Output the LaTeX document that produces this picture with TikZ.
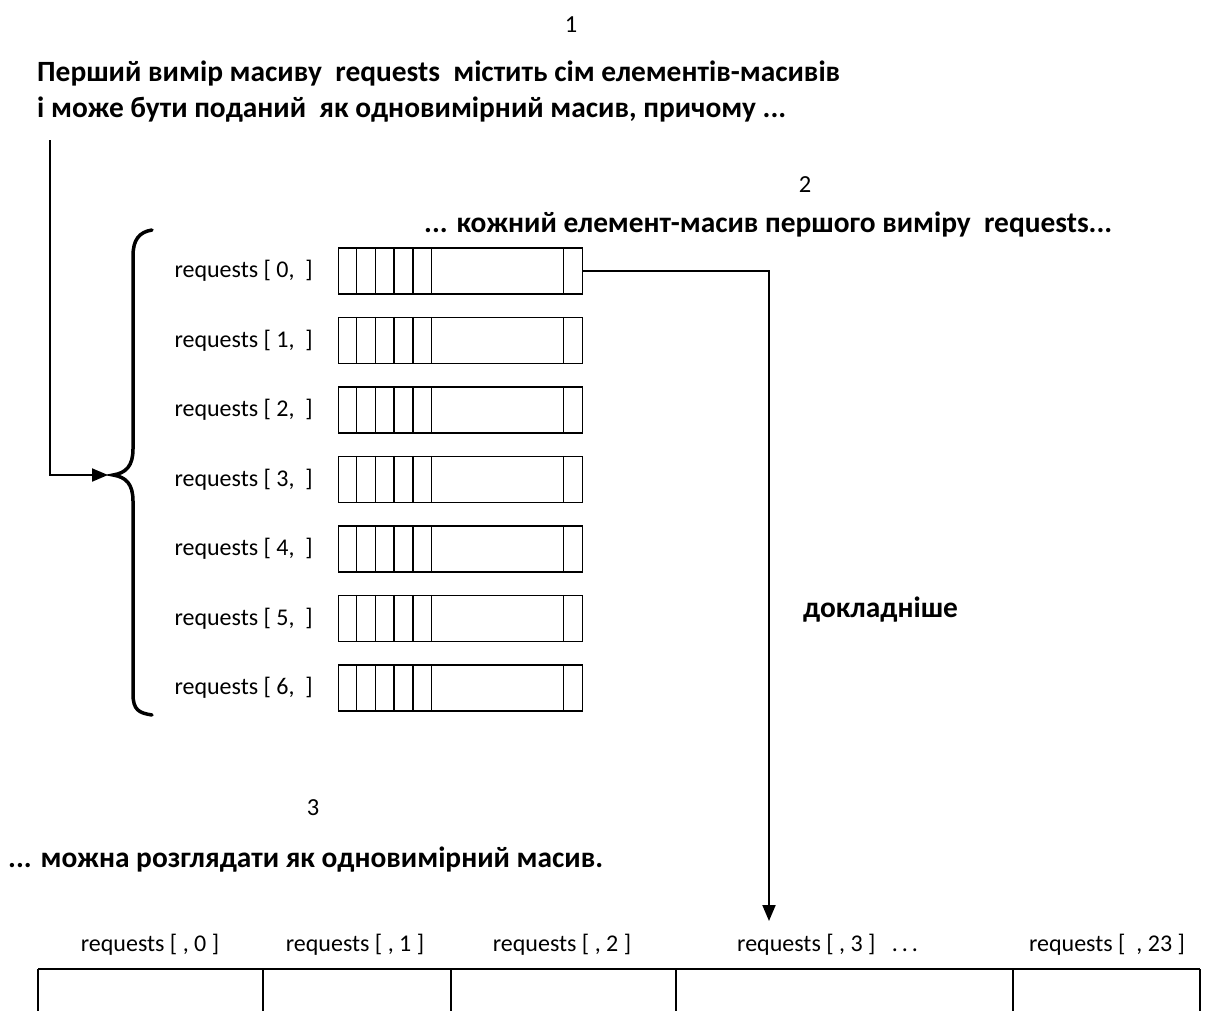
\documentclass[tikz,border=0pt]{standalone}
\usepackage{fontspec}
\setmainfont{Carlito}
\usetikzlibrary{arrows.meta}
\begin{document}
\begin{tikzpicture}[x=1pt,y=-1pt,
  captxt/.style={font=\fontsize{29.4}{34}\selectfont\bfseries, inner sep=0pt, anchor=west},
  lab/.style={font=\fontsize{24}{28}\selectfont, inner sep=0pt},
  num/.style={font=\fontsize{24.5}{28}\selectfont, inner sep=0pt},
  cellbox/.style={draw, line width=1.3pt, minimum width=244pt, minimum height=46pt, inner sep=0pt, anchor=west},
  thin/.style={line width=1.3pt},
  conn/.style={line width=2pt, -{Triangle[length=16pt,width=13pt]}},
  bracepath/.style={line width=3.5pt, line cap=round},
]
\useasboundingbox (0,0) rectangle (1205,1010);
\fill[white] (0,0) rectangle (1205,1010);

% captions
\node[num] (n1) at (571,25) {1};
\node[captxt] (t1) at (37,73) {Перший вимір масиву\ \ requests\ \ містить сім елементів-масивів};
\node[captxt] (t2) at (37,110) {і може бути поданий\ \ як одновимірний масив, причому ...};
\node[num] (n2) at (805,185) {2};
\node[captxt] (t3) at (424,224) {... кожний елемент-масив першого виміру\ \ requests...};
\node[captxt] (t4) at (803,610) {докладніше};
\node[num] (n3) at (313,808) {3};
\node[captxt] (t5) at (8,860) {... можна розглядати як одновимірний масив.};

% rows
\foreach \i in {0,...,6} {
  \pgfmathsetmacro\yy{271+69.5*\i}
  \node[cellbox] (r\i) at (338,\yy) {};
  \foreach \dx in {18.7,37.5,56,75,93.7,225.3}
    \draw[thin] ([xshift=\dx pt]r\i.north west) -- ([xshift=\dx pt]r\i.south west);
  \node[lab, anchor=east] (l\i) at (313,\yy) {requests [ \i,\ \ ]};
}

% brace
\draw[bracepath] (152,230) .. controls (139,232) and (133,240) .. (133,256) -- (133,449)
  .. controls (133,466) and (126,473) .. (113,475)
  .. controls (126,477) and (133,484) .. (133,501) -- (133,694)
  .. controls (133,710) and (139,713) .. (152,715);

% connectors
\coordinate (start) at (50,140);
\coordinate (btip) at (108,475);
\draw[conn] (start) |- (btip);
\coordinate (tgt) at (769,921);
\draw[conn] (r0.east) -| (tgt);

% bottom table
\foreach \x/\n in {38/a,263/b,451/c,676/d,1013/e,1200/f} {
  \coordinate (top\n) at (\x,969);
  \coordinate (bot\n) at (\x,1012);
  \draw[thin] (top\n) -- (bot\n);
}
\draw[line width=1.6pt] (topa) -- (topf);

\node[lab] (b0) at (150,945) {requests [ , 0 ]};
\node[lab] (b1) at (355,945) {requests [ , 1 ]};
\node[lab] (b2) at (562,945) {requests [ , 2 ]};
\node[lab, anchor=west] (b3) at (737,945) {requests [ , 3 ]\ \ \ .\,.\,.};
\node[lab] (b23) at (1107,945) {requests [\ \ , 23 ]};
\end{tikzpicture}
\end{document}
